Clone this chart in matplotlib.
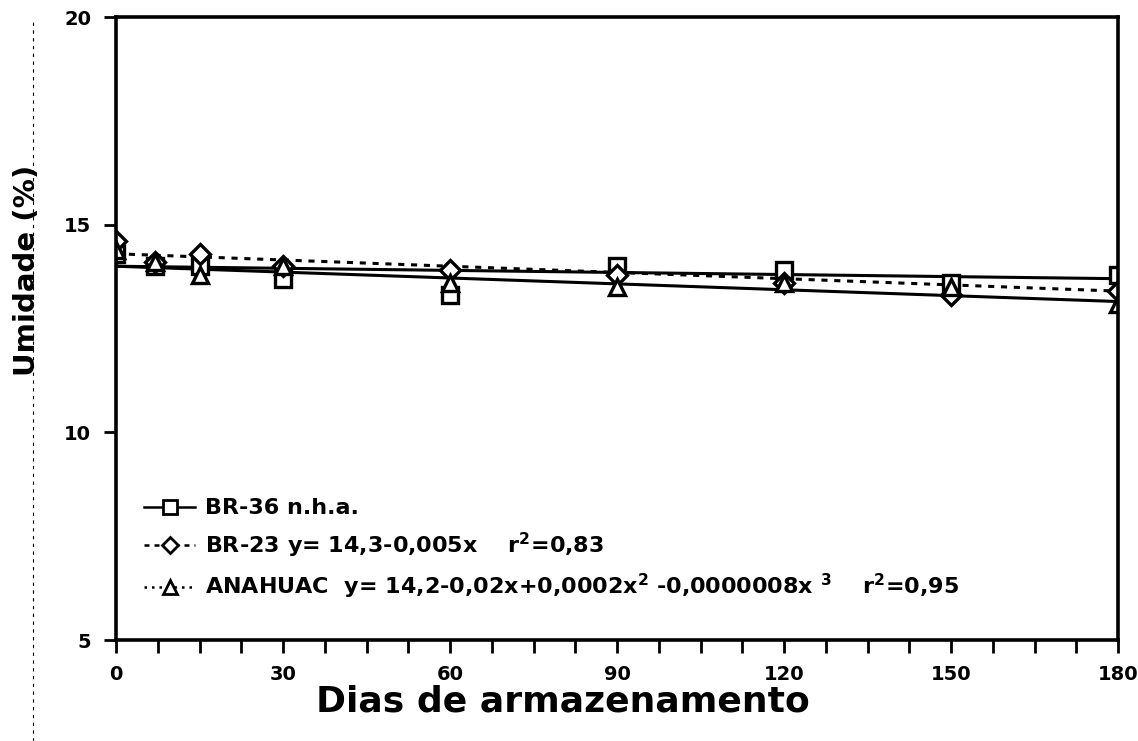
#!/usr/bin/env python3

# Umidade dos graos durante o armazenamento
import numpy as np
import matplotlib
matplotlib.use("Agg")
import matplotlib.pyplot as plt
from matplotlib.lines import Line2D

plt.rcParams['font.family'] = ['DejaVu Sans']
plt.rcParams['font.weight'] = 'bold'
plt.rcParams['mathtext.default'] = 'bf'

dias = [0, 7, 15, 30, 60, 90, 120, 150, 180]
br36 = [14.3, 14.0, 14.0, 13.7, 13.3, 14.0, 13.9, 13.6, 13.8]
br23 = [14.6, 14.1, 14.3, 14.0, 13.9, 13.8, 13.6, 13.3, 13.4]
anahuac = [14.4, 14.1, 13.8, 14.0, 13.6, 13.5, 13.6, 13.5, 13.1]

# linhas ajustadas (extremos)
fit_x = [0, 180]
br36_fit = [14.0, 13.7]
br23_fit = [14.3, 13.4]
anahuac_fit = [14.0, 13.15]

xticks = [0, 30, 60, 90, 120, 150, 180]
yticks = [5, 10, 15, 20]

labels = [
    "BR-36 n.h.a.",
    "BR-23 y= 14,3-0,005x    r$^{2}$=0,83",
    "ANAHUAC  y= 14,2-0,02x+0,0002x$^{2}$ -0,0000008x $^{3}$    r$^{2}$=0,95",
]

fig = plt.figure(figsize=(11.38, 7.41), dpi=100)
ax = fig.add_axes([0.102, 0.1363, 0.8805, 0.8407])

ax.plot(fit_x, br36_fit, color="black", lw=2.2, ls="-")
ax.plot(fit_x, anahuac_fit, color="black", lw=2.2, ls="-")
ax.plot(fit_x, br23_fit, color="black", lw=2.2, ls=(0, (2, 2.2)))

mk = dict(color="black", mfc="white", mec="black", mew=2.4, ms=12, ls="none")
ax.plot(dias, br36, marker="s", **mk)
ax.plot(dias, br23, marker="D", **dict(mk, ms=10))
ax.plot(dias, anahuac, marker="^", **mk)

ax.set_xlim(0, 180)
ax.set_ylim(5, 20)
ax.set_xticks(xticks)
ax.set_xticks(np.arange(0, 181, 7.5), minor=True)
ax.set_yticks(yticks)
ax.tick_params(axis="both", which="both", direction="out", width=2,
               length=9, labelsize=14, pad=9)
for s in ax.spines.values():
    s.set_linewidth(2.6)

ax.set_xlabel("Dias de armazenamento", fontsize=26, fontweight="bold")
ax.xaxis.set_label_coords(0.446, -0.072)
ax.set_ylabel("Umidade (%)", fontsize=21, fontweight="bold")
ax.yaxis.set_label_coords(-0.075, 0.594)

handles = [
    Line2D([], [], color="black", lw=1.8, ls="-", marker="s", mfc="white", mew=2, ms=10),
    Line2D([], [], color="black", lw=1.8, ls=(0, (2, 2)), marker="D", mfc="white", mew=2, ms=8.5),
    Line2D([], [], color="black", lw=1.8, ls=(0, (1, 2)), marker="^", mfc="white", mew=2, ms=10),
]
ax.legend(handles, labels, loc="lower left", bbox_to_anchor=(0.008, 0.03),
          frameon=False, fontsize=16, handlelength=2.3, labelspacing=0.55,
          handletextpad=0.45)

# borda do papel digitalizado
fig.add_artist(Line2D([0.029, 0.029], [0.0, 0.97], color="black", lw=0.8,
                      ls=(0, (3, 4)), transform=fig.transFigure))

fig.savefig("out.png", dpi=100)
